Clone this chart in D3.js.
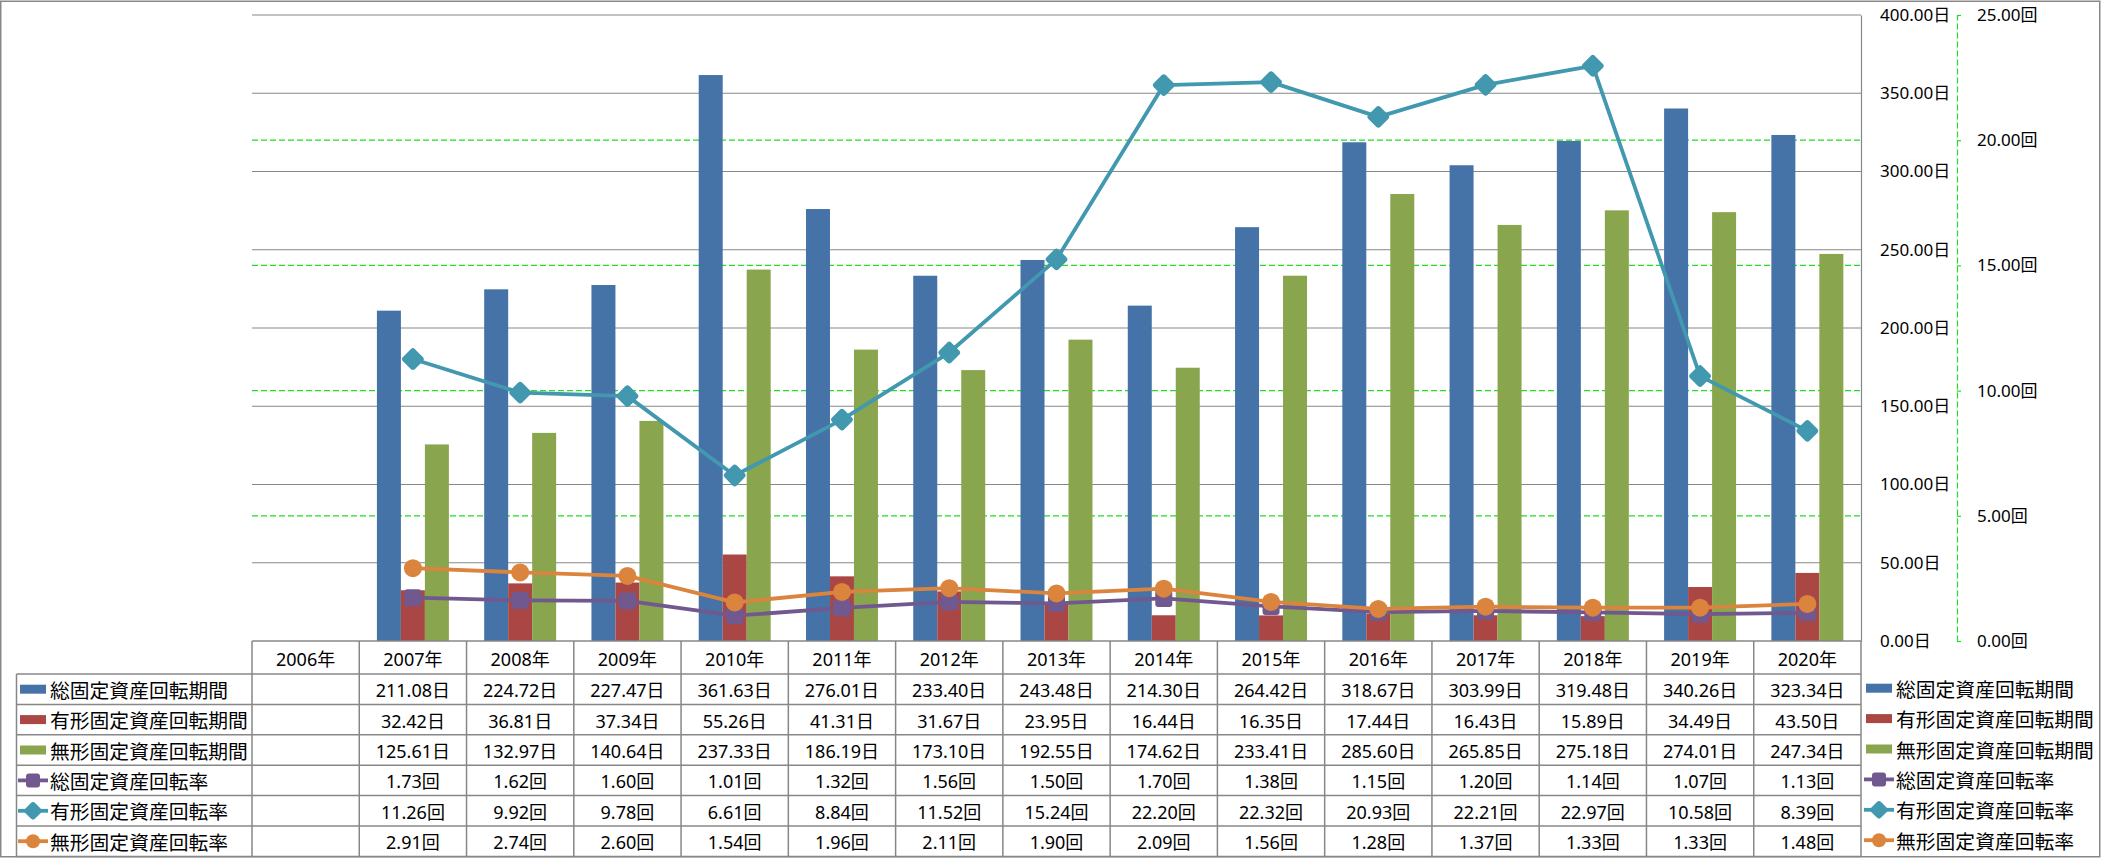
<!DOCTYPE html>
<html><head><meta charset="utf-8">
<script src="https://cdn.jsdelivr.net/npm/d3@7"></script>
<style>body{margin:0;background:#fff;} svg{display:block;}</style>
</head><body>
<svg id="c" width="2101" height="858"></svg>
<script>
// ---------- data ----------
const years = ["2006年","2007年","2008年","2009年","2010年","2011年","2012年","2013年","2014年","2015年","2016年","2017年","2018年","2019年","2020年"];
const seriesNames = ["総固定資産回転期間","有形固定資産回転期間","無形固定資産回転期間","総固定資産回転率","有形固定資産回転率","無形固定資産回転率"];
const totalPeriod    = [null,211.08,224.72,227.47,361.63,276.01,233.40,243.48,214.30,264.42,318.67,303.99,319.48,340.26,323.34];
const tangiblePeriod = [null,32.42,36.81,37.34,55.26,41.31,31.67,23.95,16.44,16.35,17.44,16.43,15.89,34.49,43.50];
const intangiblePeriod=[null,125.61,132.97,140.64,237.33,186.19,173.10,192.55,174.62,233.41,285.60,265.85,275.18,274.01,247.34];
const totalRate      = [null,1.73,1.62,1.60,1.01,1.32,1.56,1.50,1.70,1.38,1.15,1.20,1.14,1.07,1.13];
const tangibleRate   = [null,11.26,9.92,9.78,6.61,8.84,11.52,15.24,22.20,22.32,20.93,22.21,22.97,10.58,8.39];
const intangibleRate = [null,2.91,2.74,2.60,1.54,1.96,2.11,1.90,2.09,1.56,1.28,1.37,1.33,1.33,1.48];
const leftTicks  = [0,50,100,150,200,250,300,350,400];
const rightTicks = [0,5,10,15,20,25];
const colors = ["#4572A7","#AA4643","#89A54E","#71588F","#4198AF","#DB843D"];

// ---------- layout ----------
const W = 2101, H = 858;
const plotL = 252, plotR = 1861, plotT = 15, plotB = 641;
const headerH = 33, rowH = 30.4, tableL = 16.5;
const numFont = "'Noto Sans','Noto Sans CJK JP',sans-serif";
const cjkFont = "'Noto Sans CJK JP','Noto Sans',sans-serif";
const gridGray = "#878787", green = "#22dd22";

const svg = d3.select("#c");
svg.append("rect").attr("x",0.75).attr("y",1.25).attr("width",W-2).attr("height",H-2.5)
  .attr("fill","#fff").attr("stroke",gridGray).attr("stroke-width",1.5);

const x = d3.scaleBand().domain(years).range([plotL, plotR]).padding(0);
const groupW = x.bandwidth()*0.671;
const barKeys = [0,1,2];
const xi = d3.scaleBand().domain(barKeys).range([-groupW/2, groupW/2]).padding(0);
const yL = d3.scaleLinear().domain([0,400]).range([plotB, plotT]);
const yR = d3.scaleLinear().domain([0,25]).range([plotB, plotT]);

// gridlines
svg.append("g").selectAll("line").data(rightTicks.filter(d=>d>0 && d<25)).join("line")
  .attr("x1",plotL).attr("x2",plotR).attr("y1",d=>yR(d)).attr("y2",d=>yR(d))
  .attr("stroke",green).attr("stroke-width",1.2).attr("stroke-dasharray","6,3");
svg.append("g").selectAll("line").data(leftTicks.filter(d=>d>0)).join("line")
  .attr("x1",plotL).attr("x2",plotR).attr("y1",d=>yL(d)).attr("y2",d=>yL(d))
  .attr("stroke",gridGray).attr("stroke-width",1.2);

// bars
const barSeries = [totalPeriod, tangiblePeriod, intangiblePeriod];
barSeries.forEach((arr, si) => {
  svg.append("g").selectAll("rect").data(years.map((y,i)=>({y, v:arr[i]})).filter(d=>d.v!=null)).join("rect")
    .attr("x", d => x(d.y) + x.bandwidth()/2 + xi(si))
    .attr("width", xi.bandwidth())
    .attr("y", d => yL(d.v))
    .attr("height", d => yL(0)-yL(d.v))
    .attr("fill", colors[si]);
});

// marker drawing
function marker(g, type, cx, cy, s, col){
  if(type==="square"){
    g.append("rect").attr("x",cx-s/2).attr("y",cy-s/2).attr("width",s).attr("height",s).attr("rx",3).attr("fill",col);
  } else if(type==="diamond"){
    g.append("rect").attr("x",-s/2).attr("y",-s/2).attr("width",s).attr("height",s).attr("rx",3).attr("fill",col)
      .attr("transform",`translate(${cx},${cy}) rotate(45)`);
  } else {
    g.append("circle").attr("cx",cx).attr("cy",cy).attr("r",s/2).attr("fill",col);
  }
}
const lineSeries = [totalRate, tangibleRate, intangibleRate];
const markerTypes = ["square","diamond","circle"];
const markerSizes = [17,17,18];
lineSeries.forEach((arr, li) => {
  const pts = years.map((y,i)=>({y, v:arr[i]})).filter(d=>d.v!=null);
  const g = svg.append("g");
  const line = d3.line().x(d=>x(d.y)+x.bandwidth()/2).y(d=>yR(d.v));
  g.append("path").attr("d", line(pts)).attr("fill","none").attr("stroke",colors[3+li])
    .attr("stroke-width",3.8).attr("stroke-linejoin","round");
  pts.forEach(d => marker(g, markerTypes[li], x(d.y)+x.bandwidth()/2, yR(d.v), markerSizes[li], colors[3+li]));
});

// primary axis (right of plot)
const axL = svg.append("g").attr("transform",`translate(${plotR},0)`)
  .call(d3.axisRight(yL).tickValues(leftTicks).tickFormat(d=>d3.format(".2f")(d)+"日").tickSize(0).tickPadding(19));
axL.select(".domain").attr("stroke",gridGray).attr("stroke-width",1.2);
axL.selectAll("text").attr("font-family",numFont).attr("font-size",17).attr("fill","#000");

// secondary axis
const axR = svg.append("g").attr("transform",`translate(1957,0)`)
  .call(d3.axisRight(yR).tickValues(rightTicks).tickFormat(d=>d3.format(".2f")(d)+"回").tickSize(4).tickSizeOuter(0).tickPadding(16));
axR.select(".domain").attr("stroke",green).attr("stroke-width",1.2).attr("stroke-dasharray","6,3");
axR.selectAll(".tick line").attr("stroke",green).attr("stroke-width",1.2);
axR.selectAll("text").attr("font-family",numFont).attr("font-size",17).attr("fill","#000");

// ---------- data table ----------
const tbl = svg.append("g");
const rowTop = i => plotB + headerH + i*rowH;
const tableB = rowTop(6);
tbl.append("line").attr("x1",plotL).attr("x2",plotR).attr("y1",plotB).attr("y2",plotB).attr("stroke",gridGray).attr("stroke-width",1.5);
d3.range(7).forEach(i=>{
  tbl.append("line").attr("x1",tableL).attr("x2",plotR).attr("y1",rowTop(i)).attr("y2",rowTop(i))
    .attr("stroke",gridGray).attr("stroke-width",1.5);
});
tbl.append("line").attr("x1",tableL).attr("x2",tableL).attr("y1",rowTop(0)).attr("y2",tableB).attr("stroke",gridGray).attr("stroke-width",1.5);
years.forEach(y=>{
  tbl.append("line").attr("x1",x(y)).attr("x2",x(y)).attr("y1",plotB).attr("y2",tableB).attr("stroke",gridGray).attr("stroke-width",1.5);
});
tbl.append("line").attr("x1",plotR).attr("x2",plotR).attr("y1",plotB).attr("y2",tableB).attr("stroke",gridGray).attr("stroke-width",1.5);

tbl.selectAll("text.yr").data(years).join("text").attr("class","yr")
  .attr("x",d=>x(d)+x.bandwidth()/2).attr("y",plotB+headerH/2+1)
  .attr("text-anchor","middle").attr("dominant-baseline","central")
  .attr("font-family",numFont).attr("font-size",18).text(d=>d);

const allSeries = [totalPeriod, tangiblePeriod, intangiblePeriod, totalRate, tangibleRate, intangibleRate];
const units = ["日","日","日","回","回","回"];
allSeries.forEach((arr, si)=>{
  const cy = rowTop(si) + rowH/2 + 1;
  years.forEach((y,i)=>{
    if(arr[i]==null) return;
    tbl.append("text").attr("x",x(y)+x.bandwidth()/2).attr("y",cy)
      .attr("text-anchor","middle").attr("dominant-baseline","central")
      .attr("font-family",numFont).attr("font-size",18).text(arr[i].toFixed(2)+units[si]);
  });
});

function legendItem(g, si, kx, cy){
  if(si<3){
    g.append("rect").attr("x",kx).attr("y",cy-4.5).attr("width",26).attr("height",9).attr("fill",colors[si]);
  } else {
    g.append("line").attr("x1",kx-2).attr("x2",kx+28).attr("y1",cy).attr("y2",cy).attr("stroke",colors[si]).attr("stroke-width",3.8);
    marker(g, markerTypes[si-3], kx+13, cy, 14, colors[si]);
  }
  g.append("text").attr("x",kx+30).attr("y",cy).attr("dominant-baseline","central")
    .attr("font-family",cjkFont).attr("font-size",19.8).attr("fill","#000").text(seriesNames[si]);
}
seriesNames.forEach((n,si)=>{
  legendItem(tbl, si, 20, rowTop(si)+rowH/2);
  legendItem(svg, si, 1866, rowTop(si)+rowH/2 - 1);
});
</script>
</body></html>
